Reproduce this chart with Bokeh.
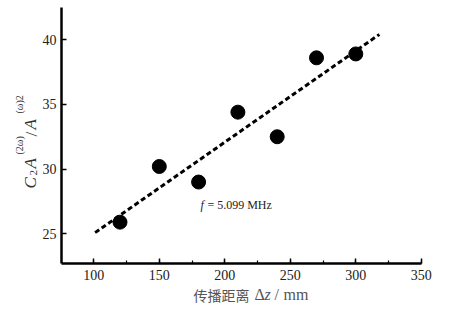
import numpy as np
from math import pi
from bokeh.plotting import figure
from bokeh.models import Label, SingleIntervalTicker, Range1d
from bokeh.embed import file_html
from bokeh.resources import INLINE

# data
distance = [120, 150, 180, 210, 240, 270, 300]          # 传播距离 Δz / mm
ratio = [25.9, 30.2, 29.0, 34.4, 32.5, 38.6, 38.9]       # C2 A(2ω)/A(ω)^2
fit_x = [101, 318]
slope, intercept = np.polyfit(distance, ratio, 1)
fit_y = [slope * x + intercept for x in fit_x]

freq_text = "= 5.099 MHz"
x_ticks_interval = 50
y_ticks_interval = 5

W, H = 451, 313
# the frame covers the whole canvas; axes are pinned at fixed locations
p = figure(width=W, height=H, output_backend="svg", toolbar_location=None,
           x_range=Range1d(28.78, 373.05), y_range=Range1d(18.84, 43.03),
           min_border=0)
p.outline_line_color = None
p.xgrid.visible = False
p.ygrid.visible = False
p.background_fill_color = "white"
p.border_fill_color = "white"

p.xaxis.fixed_location = 22.67
p.yaxis.fixed_location = 75.34
p.xaxis.bounds = (75.34, 350)
p.yaxis.bounds = (22.67, 42.5)

p.xaxis.ticker = SingleIntervalTicker(interval=x_ticks_interval, num_minor_ticks=2)
p.yaxis.ticker = SingleIntervalTicker(interval=y_ticks_interval, num_minor_ticks=0)
for ax in (p.xaxis, p.yaxis):
    ax.axis_line_width = 2.5
    ax.axis_line_color = "black"
    ax.major_tick_in = 5
    ax.major_tick_out = 0
    ax.major_tick_line_width = 1.5
    ax.minor_tick_in = 3
    ax.minor_tick_out = 0
    ax.minor_tick_line_width = 1.2
    ax.major_label_text_font = "Liberation Serif"
    ax.major_label_text_font_size = "14px"
    ax.major_label_text_color = "#222222"
p.yaxis.minor_tick_line_color = None
p.xaxis.major_label_standoff = 6
p.yaxis.major_label_standoff = 5

p.line(fit_x, fit_y, line_dash="5 3", line_width=3, color="black")
p.scatter(distance, ratio, size=14, color="black")

p.add_layout(Label(x=181.4, y=26.65, text="f", text_font="Liberation Serif",
                   text_font_style="italic", text_font_size="12px", text_color="#222222"))
p.add_layout(Label(x=181.4, y=26.65, x_offset=7, text=freq_text, text_font="Liberation Serif",
                   text_font_size="12px", text_color="#222222"))

# y axis label pieces (rotated), canvas coords
ylabel_parts = [
    ("C", 188, 30, "17px", "italic"),
    ("2", 175, 33, "11px", "normal"),
    ("A", 168, 30, "17px", "italic"),
    ("(2ω)", 154, 19, "10px", "normal"),
    ("/", 136, 31, "17px", "normal"),
    ("A", 129, 30, "17px", "italic"),
    ("(ω)2", 113, 19, "10px", "normal"),
]
for txt, cy, cx, fs, st in ylabel_parts:
    p.add_layout(Label(x=cx, y=H - cy, x_units="screen", y_units="screen",
                       text=txt, angle=pi / 2, text_font="Liberation Serif",
                       text_font_style=st, text_font_size=fs, text_color="#333333",
                       text_align="left", text_baseline="alphabetic"))

# x axis label pieces
xlabel_parts = [
    ("传播距离", 193, "Noto Sans CJK SC", "14px", "normal"),
    ("Δ", 254, "Liberation Serif", "16px", "normal"),
    ("z", 264, "Liberation Serif", "16px", "italic"),
    ("/", 274, "Liberation Serif", "16px", "normal"),
    ("mm", 283, "Liberation Serif", "16px", "normal"),
]
for txt, cx, font, fs, st in xlabel_parts:
    p.add_layout(Label(x=cx, y=H - 294, x_units="screen", y_units="screen",
                       text=txt, text_font=font, text_font_style=st, text_font_size=fs,
                       text_color="#555555", text_align="left", text_baseline="alphabetic"))

open("out.html", "w").write(file_html(p, INLINE))
